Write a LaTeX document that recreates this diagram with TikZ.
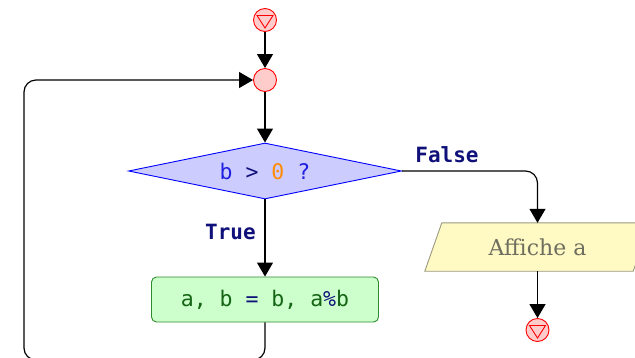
\documentclass[tikz,border=0pt]{standalone}
\usepackage{fontspec}
\setmonofont{DejaVu Sans Mono}
\newfontfamily\grayserif{DejaVu Serif}
\usetikzlibrary{arrows.meta,shapes.geometric}
\definecolor{pinkfill}{HTML}{FFCCCC}
\definecolor{diafill}{HTML}{CCCCFF}
\definecolor{rectfill}{HTML}{CCFFCC}
\definecolor{rectdraw}{HTML}{2E8B2E}
\definecolor{rectext}{HTML}{146414}
\definecolor{parafill}{HTML}{FFF9C4}
\definecolor{paradraw}{HTML}{9A9A80}
\definecolor{paratext}{HTML}{6E6E5E}
\definecolor{navy}{HTML}{10107A}
\definecolor{kwblue}{HTML}{2020E0}
\definecolor{numorange}{HTML}{FF8C00}
\tikzset{
  arr/.style={line width=1.2pt, -{Triangle[length=14pt,width=16pt]}},
  termcircle/.style={circle, draw=red, fill=pinkfill, line width=0.9pt, minimum size=23pt, inner sep=0pt,
    path picture={\draw[red, line width=0.9pt]
      ([shift={(-8pt,4.5pt)}]path picture bounding box.center) --
      ([shift={(8pt,4.5pt)}]path picture bounding box.center) --
      ([shift={(0pt,-8pt)}]path picture bounding box.center) -- cycle;}},
  joincircle/.style={circle, draw=red, fill=pinkfill, line width=0.9pt, minimum size=23pt, inner sep=0pt},
  decision/.style={diamond, aspect=4.875, draw=blue, fill=diafill, line width=0.9pt,
    minimum width=273pt, minimum height=56pt, inner sep=0pt, font=\fontsize{21.5}{24}\ttfamily},
  process/.style={rectangle, rounded corners=5pt, draw=rectdraw, fill=rectfill, line width=0.9pt,
    minimum width=227pt, minimum height=45pt, inner sep=0pt, font=\fontsize{21.5}{24}\ttfamily},
  iobox/.style={rectangle, minimum width=208pt, minimum height=48pt, inner sep=0pt,
    font=\fontsize{22}{24}\grayserif, text=paratext},
  edgelabel/.style={font=\fontsize{21}{24}\ttfamily\bfseries, text=navy, inner sep=0pt}
}
\begin{document}
\begin{tikzpicture}[x=1pt,y=-1pt]
\useasboundingbox (0,0) rectangle (635,357);
\node[termcircle] (start) at (265,20) {};
\node[joincircle] (join) at (265,80) {};
\node[decision] (dia) at (265,171) {\textcolor{kwblue}{b} \textcolor{navy}{>} \textcolor{numorange}{0} \textcolor{kwblue}{?}};
\node[process] (proc) at (265,299.5) {\textcolor{rectext}{a, b} \textcolor{navy}{=} \textcolor{rectext}{b, a}\textcolor{navy}{\%}\textcolor{rectext}{b}};
\node[iobox] (aff) at (537.5,247) {};
\filldraw[fill=parafill, draw=paradraw, line width=0.9pt]
  ([xshift=-8.5pt]aff.south west) -- ([xshift=-8.5pt]aff.south east) --
  ([xshift=8.5pt]aff.north east) -- ([xshift=8.5pt]aff.north west) -- cycle;
\node[iobox] at (aff.center) {Affiche a};
\node[termcircle] (stop) at (537.5,330) {};
\coordinate (loopbl) at (265,360);
\coordinate (looplb) at (24,360);
\coordinate (looplt) at (24,80);

\draw[arr] (start) -- (join);
\draw[arr] (join) -- (dia.north);
\draw[arr] (dia.south) -- (proc.north);
\draw[arr, rounded corners=12pt] (dia.east) -| (aff.north);
\draw[arr] (aff.south) -- (stop);
\draw[arr, rounded corners=12pt] (proc.south) -- (loopbl) -- (looplb) -- (looplt) -- (join.west);

\node[edgelabel] (lfalse) at (447,155) {False};
\node[edgelabel] (ltrue) at (230.5,232) {True};
\end{tikzpicture}
\end{document}
